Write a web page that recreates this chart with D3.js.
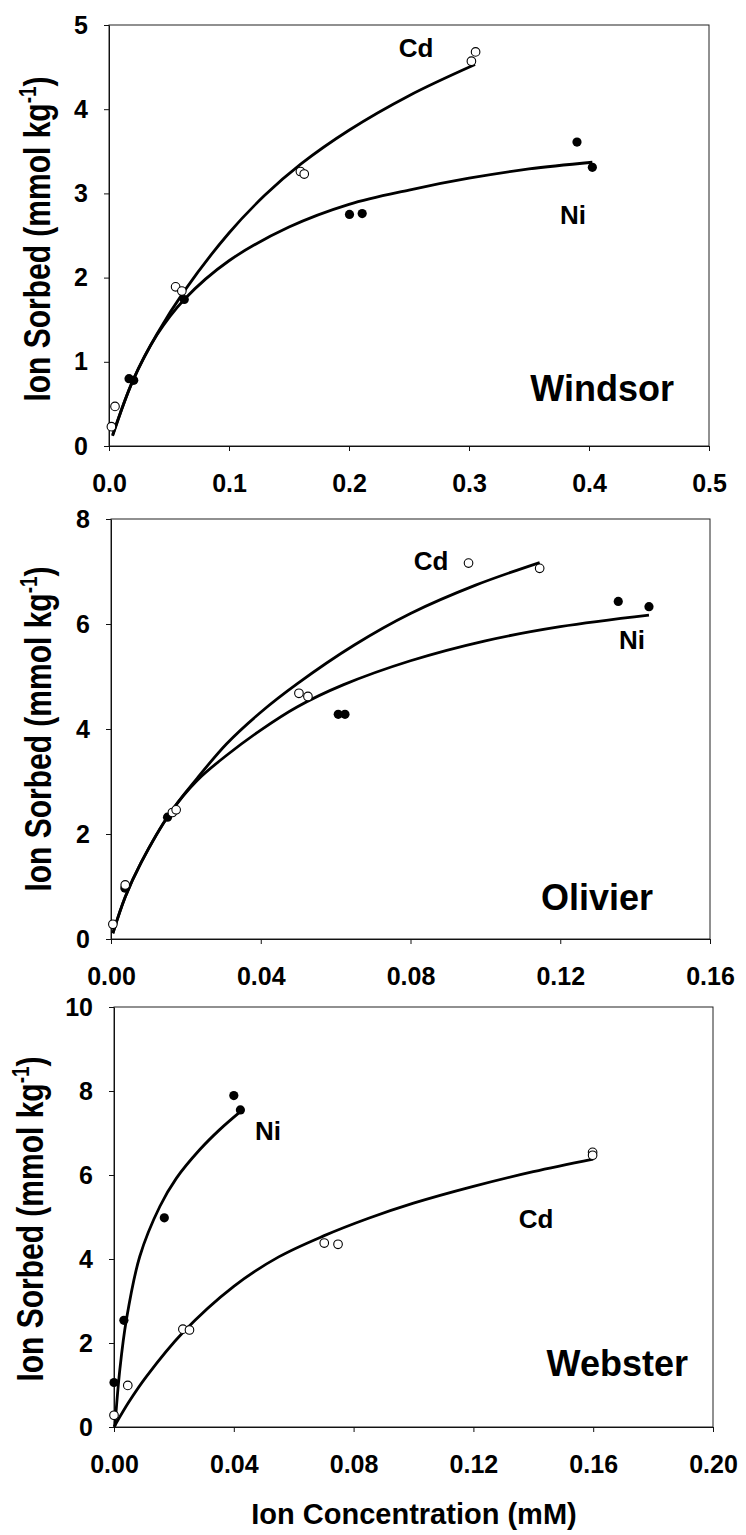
<!DOCTYPE html>
<html>
<head>
<meta charset="utf-8">
<script src="https://cdn.jsdelivr.net/npm/d3@7"></script>
<style>
  body { margin: 0; background: #fff; }
  text { font-family: "Liberation Sans", Arial, sans-serif; font-weight: bold; fill: #000; }
</style>
</head>
<body>
<svg id="chart"></svg>
<script>
// ---- data (x = ion concentration mM, y = ion sorbed mmol/kg) ----
// Windsor
const windsorCd = [[0.002,0.23],[0.005,0.47],[0.0555,1.89],[0.0607,1.84],[0.1595,3.26],[0.1627,3.23],[0.302,4.57],[0.3055,4.68]];
const windsorNi = [[0.0167,0.80],[0.0206,0.78],[0.0627,1.74],[0.2004,2.75],[0.211,2.76],[0.390,3.61],[0.4028,3.31]];
const windsorCdFit = [[0.003,0.13],[0.02,0.78],[0.04,1.33],[0.0627,1.84],[0.1,2.53],[0.13,2.98],[0.16,3.35],[0.2,3.75],[0.25,4.16],[0.305,4.53]];
const windsorNiFit = [[0.003,0.12],[0.02,0.78],[0.04,1.32],[0.0627,1.74],[0.1,2.2],[0.15,2.6],[0.2,2.87],[0.25,3.04],[0.3,3.18],[0.35,3.29],[0.4028,3.37]];

// Olivier
const olivierCd = [[0.0005,0.28],[0.0038,1.03],[0.0164,2.41],[0.0174,2.46],[0.0502,4.68],[0.0526,4.62],[0.0955,7.16],[0.1145,7.06]];
const olivierNi = [[0.0037,0.97],[0.0151,2.32],[0.0607,4.28],[0.0625,4.28],[0.1355,6.43],[0.1437,6.33]];
const olivierCdFit = [[0.0005,0.11],[0.0038,0.8],[0.008,1.45],[0.0158,2.4],[0.023,3.06],[0.0309,3.72],[0.04,4.32],[0.0497,4.86],[0.065,5.6],[0.08,6.2],[0.0974,6.74],[0.1145,7.17]];
const olivierNiFit = [[0.0005,0.11],[0.0038,0.8],[0.008,1.45],[0.0158,2.4],[0.023,3.02],[0.0309,3.5],[0.04,3.98],[0.0497,4.42],[0.062,4.84],[0.08,5.3],[0.1,5.68],[0.12,5.95],[0.1437,6.17]];

// Webster
const websterCd = [[0.0,0.28],[0.0046,0.99],[0.023,2.33],[0.0252,2.31],[0.0702,4.38],[0.0748,4.35],[0.1598,6.54],[0.1598,6.47]];
const websterNi = [[0.0,1.06],[0.0033,2.54],[0.0168,4.98],[0.040,7.89],[0.0422,7.55]];
const websterCdFit = [[0.0,0.0],[0.005,0.6],[0.0108,1.2],[0.023,2.25],[0.04,3.35],[0.055,4.05],[0.07,4.55],[0.085,4.97],[0.1,5.33],[0.12,5.73],[0.14,6.08],[0.16,6.38]];
const websterNiFit = [[0.0003,0.02],[0.002,1.4],[0.0041,2.54],[0.0086,4.06],[0.0153,5.25],[0.0208,5.92],[0.0286,6.6],[0.0353,7.08],[0.0424,7.52]];

// tick labels
const windsorXTicks = [0, 0.1, 0.2, 0.3, 0.4, 0.5];
const windsorYTicks = [0, 1, 2, 3, 4, 5];
const olivierXTicks = [0, 0.04, 0.08, 0.12, 0.16];
const olivierYTicks = [0, 2, 4, 6, 8];
const websterXTicks = [0, 0.04, 0.08, 0.12, 0.16, 0.20];
const websterYTicks = [0, 2, 4, 6, 8, 10];

// ---- layout ----
const W = 746, H = 1535;

const panels = [
  { site: "Windsor", left: 109, right: 709, top: 25, bottom: 446,
    xMax: 0.5, yMax: 5, xTicks: windsorXTicks, yTicks: windsorYTicks, xFmt: ".1f",
    cd: windsorCd, ni: windsorNi, cdFit: windsorCdFit, niFit: windsorNiFit,
    cdLabel: [416, 57], niLabel: [573, 224], siteLabel: [674, 401], yTitle: [50, 239] },
  { site: "Olivier", left: 111, right: 710, top: 519, bottom: 939,
    xMax: 0.16, yMax: 8, xTicks: olivierXTicks, yTicks: olivierYTicks, xFmt: ".2f",
    cd: olivierCd, ni: olivierNi, cdFit: olivierCdFit, niFit: olivierNiFit,
    cdLabel: [431, 570], niLabel: [632, 649], siteLabel: [653, 910], yTitle: [51, 729] },
  { site: "Webster", left: 114, right: 713, top: 1007, bottom: 1427,
    xMax: 0.2, yMax: 10, xTicks: websterXTicks, yTicks: websterYTicks, xFmt: ".2f",
    cd: websterCd, ni: websterNi, cdFit: websterCdFit, niFit: websterNiFit,
    cdLabel: [536, 1228], niLabel: [268, 1140], siteLabel: [688, 1376], yTitle: [43, 1219] }
];

const svg = d3.select("#chart")
  .attr("width", W)
  .attr("height", H);

svg.append("rect").attr("width", W).attr("height", H).attr("fill", "#fff");

panels.forEach(p => {
  const x = d3.scaleLinear().domain([0, p.xMax]).range([p.left, p.right]);
  const y = d3.scaleLinear().domain([0, p.yMax]).range([p.bottom, p.top]);

  const g = svg.append("g");

  // frame
  g.append("rect")
    .attr("x", p.left).attr("y", p.top)
    .attr("width", p.right - p.left).attr("height", p.bottom - p.top)
    .attr("fill", "none").attr("stroke", "#222").attr("stroke-width", 1);

  const xAxis = g.append("g")
    .attr("transform", `translate(0,${p.bottom})`)
    .call(d3.axisBottom(x).tickValues(p.xTicks).tickFormat(d3.format(p.xFmt))
      .tickSize(5).tickSizeOuter(0).tickPadding(23));

  const yAxis = g.append("g")
    .attr("transform", `translate(${p.left},0)`)
    .call(d3.axisLeft(y).tickValues(p.yTicks).tickFormat(d3.format("d"))
      .tickSize(5).tickSizeOuter(0).tickPadding(16));

  [xAxis, yAxis].forEach(a => {
    a.selectAll("path.domain").attr("stroke", "#111").attr("stroke-width", 1);
    a.selectAll(".tick line").attr("stroke", "#111").attr("stroke-width", 1);
    a.selectAll(".tick text")
      .attr("font-size", 25)
      .attr("font-family", '"Liberation Sans", Arial, sans-serif')
      .attr("font-weight", "bold")
      .attr("fill", "#000");
  });

  // fitted curves
  const line = d3.line()
    .x(d => x(d[0]))
    .y(d => y(d[1]))
    .curve(d3.curveCatmullRom.alpha(0.5));

  [p.cdFit, p.niFit].forEach(fit => {
    g.append("path")
      .datum(fit)
      .attr("d", line)
      .attr("fill", "none")
      .attr("stroke", "#000")
      .attr("stroke-width", 2.8);
  });

  // Ni points (filled)
  g.selectAll("circle.ni")
    .data(p.ni)
    .enter()
    .append("circle")
    .attr("class", "ni")
    .attr("cx", d => x(d[0]))
    .attr("cy", d => y(d[1]))
    .attr("r", 4.6)
    .attr("fill", "#000");

  // Cd points (open)
  g.selectAll("circle.cd")
    .data(p.cd)
    .enter()
    .append("circle")
    .attr("class", "cd")
    .attr("cx", d => x(d[0]))
    .attr("cy", d => y(d[1]))
    .attr("r", 4.3)
    .attr("fill", "#fff")
    .attr("stroke", "#000")
    .attr("stroke-width", 1.1);

  // series labels
  g.append("text").attr("x", p.cdLabel[0]).attr("y", p.cdLabel[1])
    .attr("text-anchor", "middle").attr("font-size", 26).text("Cd");
  g.append("text").attr("x", p.niLabel[0]).attr("y", p.niLabel[1])
    .attr("text-anchor", "middle").attr("font-size", 26).text("Ni");

  // site label
  g.append("text").attr("x", p.siteLabel[0]).attr("y", p.siteLabel[1])
    .attr("text-anchor", "end").attr("font-size", 36).text(p.site);

  // y axis title
  const yt = g.append("text")
    .attr("transform", `translate(${p.yTitle[0]},${p.yTitle[1]}) rotate(-90) scale(1,1.25)`)
    .attr("text-anchor", "middle")
    .attr("font-size", 30);
  yt.append("tspan").text("Ion Sorbed (mmol kg");
  yt.append("tspan").attr("font-size", 19).attr("dy", -11).text("-1");
  yt.append("tspan").attr("font-size", 30).attr("dy", 11).text(")");
});

// x axis title (bottom panel only)
svg.append("text")
  .attr("x", 414)
  .attr("y", 1524)
  .attr("text-anchor", "middle")
  .attr("font-size", 29)
  .text("Ion Concentration (mM)");
</script>
</body>
</html>
